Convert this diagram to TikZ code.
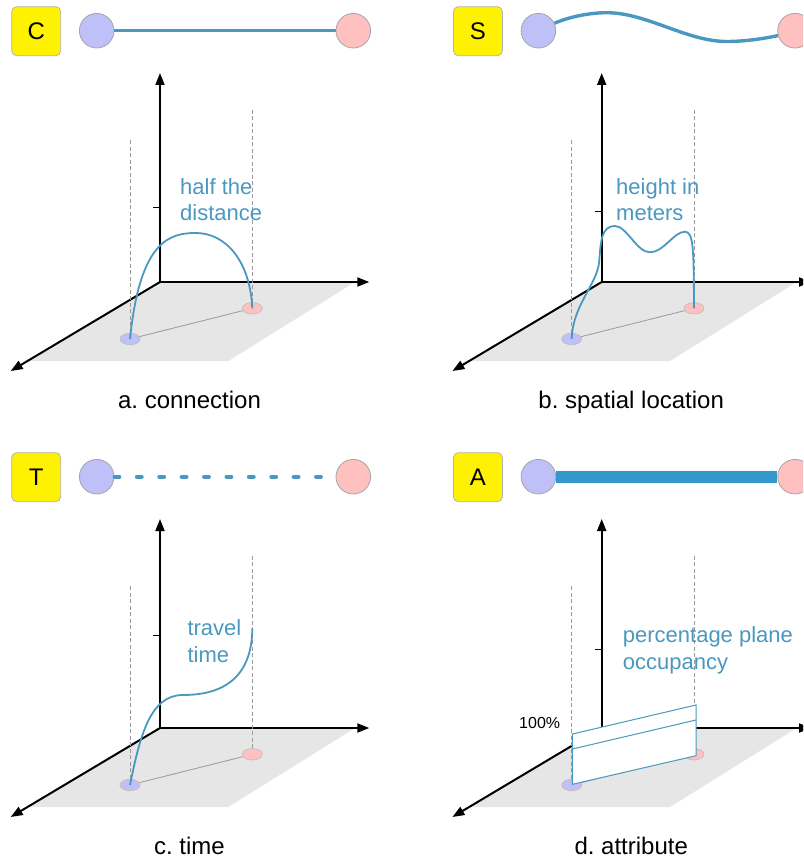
\documentclass[tikz,border=0pt]{standalone}
\usepackage{fontspec}
\setmainfont{Liberation Sans}
\usetikzlibrary{arrows.meta,shapes.geometric}
\frenchspacing

\definecolor{linkblue}{HTML}{4A98C0}
\definecolor{barblue}{HTML}{3399CC}
\definecolor{nodeblue}{HTML}{C0C0F8}
\definecolor{nodepink}{HTML}{FFC0C0}
\definecolor{planegray}{HTML}{E6E6E6}

\tikzset{
  tagbox/.style={draw=black!30,line width=0.8pt,fill=yellow,rounded corners=5pt,
    minimum size=49pt,inner sep=0pt,font=\fontsize{24}{28}\selectfont},
  endpt/.style={circle,draw=black!35,line width=0.8pt,minimum size=34.6pt,inner sep=0pt},
  foot/.style={ellipse,draw=black!25,line width=0.7pt,minimum width=20pt,
    minimum height=11.4pt,inner sep=0pt},
  axis/.style={->,line width=2pt},
  guide/.style={black!40,line width=0.8pt,dash pattern=on 4pt off 2.5pt},
  link/.style={linkblue,line width=1.8pt},
  lbl/.style={text=linkblue,anchor=north west,align=left,inner sep=0pt,
    font=\fontsize{22}{26.4}\selectfont},
  caption/.style={anchor=base,inner sep=0pt,font=\fontsize{24}{28}\selectfont},
}

% head row, floor plane, axes and the two feet of one panel
% #1 name, #2 letter, #3 tick height, #4 caption
\newcommand\panelbase[4]{%
  \node[tagbox] (#1-tag) at (36.2,31.2) {#2};
  \node[endpt,fill=nodeblue] (#1-src) at (96.7,30.7) {};
  \node[endpt,fill=nodepink] (#1-dst) at (353.3,30.7) {};
  \fill[planegray] (160,282) -- (355,282) -- (228.3,361) -- (27.4,361) -- cycle;
  \coordinate (#1-o) at (160,282);
  \coordinate (#1-z) at (160,73);
  \coordinate (#1-x) at (369.3,282);
  \coordinate (#1-y) at (10.7,371);
  \draw[axis] (#1-o) -- (#1-z);
  \draw[axis] (#1-o) -- (#1-x);
  \draw[axis] (#1-o) -- (#1-y);
  \draw[line width=1pt] (153.3,#3) -- (160,#3);
  \node[foot,fill=nodeblue] (#1-f1) at (130,339) {};
  \node[foot,fill=nodepink] (#1-f2) at (252.3,308.3) {};
  \coordinate (#1-h1) at (130,139);
  \coordinate (#1-h2) at (252.3,108);
  \draw[black!40,line width=0.8pt] (#1-f1) -- (#1-f2);
  \draw[guide] (#1-f1) -- (#1-h1);
  \draw[guide] (#1-f2) -- (#1-h2);
  \node[caption] (#1-cap) at (189.5,408.3) {#4};
}

\begin{document}
\begin{tikzpicture}[x=1pt,y=-1pt,>={Triangle[length=12pt,width=9pt]}]
  \useasboundingbox (0,0) rectangle (803,856);
  \clip (0,0) rectangle (803,856);

  % a. connection
  \begin{scope}
    \panelbase{a}{C}{207.3}{a. connection}
    \draw[linkblue,line width=3.5pt] (a-src) -- (a-dst);
    \draw[link] (a-f1.center) .. controls (140,240) and (170,233) .. (196,233)
      .. controls (225,233) and (250,260) .. (a-f2.center);
    \node[lbl] (a-txt) at (180,178.3) {half the\\distance};
  \end{scope}

  % b. spatial location
  \begin{scope}[shift={(441.7,0)}]
    \panelbase{b}{S}{211}{b. spatial location}
    \draw[linkblue,line width=3.4pt] (b-src.25) .. controls (130,16) and (150,12.7) .. (165,12.7)
      .. controls (205,12.7) and (245,41.5) .. (285,41.5)
      .. controls (305,41.5) and (325,38) .. (b-dst.196);
    \draw[link] (b-f1.center) .. controls (131,305) and (155,285) .. (157.5,262)
      .. controls (159,240) and (160,226) .. (173.3,226)
      .. controls (185,226) and (195,252.3) .. (208.3,252.3)
      .. controls (222,252.3) and (232,231.7) .. (243.3,231.7)
      .. controls (252,231.7) and (252,250) .. (b-f2.center);
    \node[lbl] (b-txt) at (174.3,178.3) {height in\\meters};
  \end{scope}

  % c. time
  \begin{scope}[shift={(0,446)}]
    \panelbase{c}{T}{189}{c. time}
    \draw[linkblue,line width=3.8pt,line cap=round,dash pattern=on 5pt off 17.4pt]
      (c-src) -- (c-dst);
    \coordinate (c-end) at (252.3,182.3);
    \draw[link] (c-f1.center) .. controls (140,290) and (150,249) .. (183,249)
      .. controls (225,249) and (252,230) .. (c-end);
    \node[lbl] (c-txt) at (187.3,173.5) {travel\\time};
  \end{scope}

  % d. attribute
  \begin{scope}[shift={(441.7,446)}]
    \panelbase{d}{A}{203}{d. attribute}
    \draw[barblue,line width=11.7pt] (d-src) -- (d-dst);
    \filldraw[fill=white,draw=linkblue,line width=1pt]
      (130.7,338.3) -- (254.3,309.7) -- (254.3,259) -- (130.7,288) -- cycle;
    \draw[linkblue,line width=1pt] (130.7,303) -- (254.3,274);
    \node[font=\fontsize{16}{19}\selectfont] (d-full) at (98,277.3) {100\%};
    \node[lbl] (d-txt) at (181,180.7) {percentage plane\\occupancy};
  \end{scope}
\end{tikzpicture}
\end{document}
